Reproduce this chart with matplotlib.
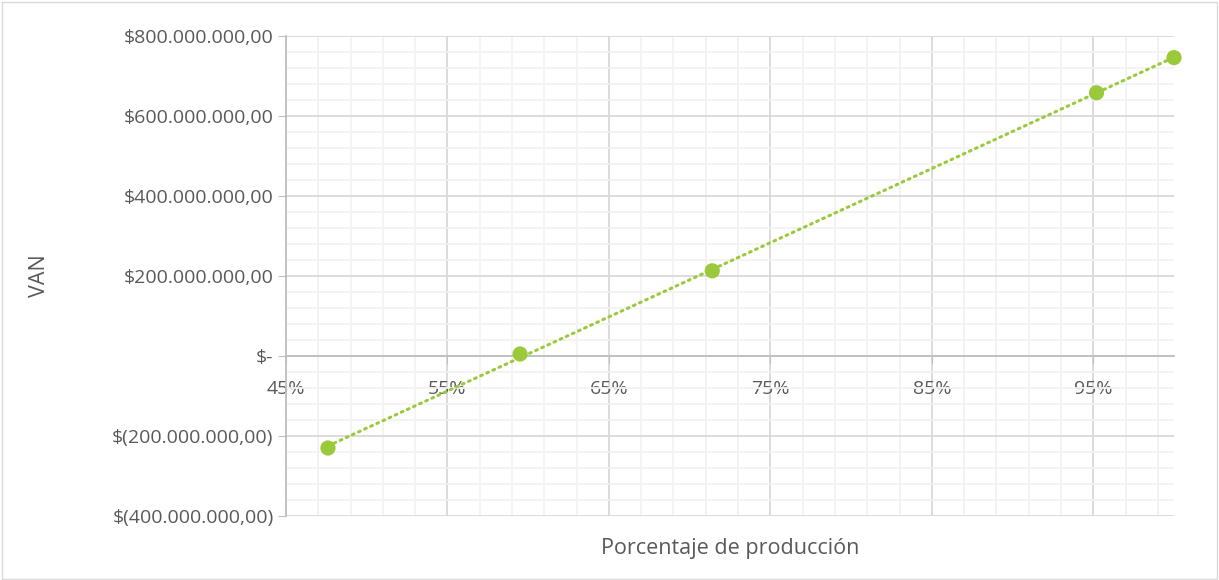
from matplotlib import pyplot as plt
from matplotlib.ticker import FuncFormatter, FixedLocator, MultipleLocator
import numpy as np

# datos
produccion = np.array([0.476, 0.595, 0.714, 0.952, 1.00])
van = np.array([-230e6, 5e6, 213e6, 658e6, 746e6])
ticks_x = [0.45, 0.55, 0.65, 0.75, 0.85, 0.95]

plt.rcParams['font.family'] = ['Open Sans', 'DejaVu Sans']
verde = '#9ACA3C'
gris = '#595959'

def fmt_pesos(v, pos):
    if abs(v) < 1:
        return '$-'
    s = '{:,.2f}'.format(abs(v)).replace(',', 'X').replace('.', ',').replace('X', '.')
    if v < 0:
        return '$(' + s + ')'
    return '$' + s

fig = plt.figure(figsize=(12.19, 5.8), dpi=100)
ax = fig.add_axes([286/1219, 1-516/580, (1174-286)/1219, (516-36)/580])

# linea de tendencia
m, b = np.polyfit(produccion, van, 1)
xt = np.array([produccion.min(), produccion.max()])
ax.plot(xt, m*xt + b, color=verde, lw=2.2, ls=(0, (0.6, 1.6)), dash_capstyle='round', zorder=3)
ax.scatter(produccion, van, s=120, color=verde, zorder=4, edgecolors='none', clip_on=False)

ax.set_xlim(0.45, 1.00)
ax.set_ylim(-400e6, 800e6)
ax.xaxis.set_major_locator(FixedLocator(ticks_x))
ax.xaxis.set_minor_locator(FixedLocator(np.arange(0.45, 1.001, 0.02)))
ax.yaxis.set_major_locator(MultipleLocator(200e6))
ax.yaxis.set_minor_locator(MultipleLocator(40e6))
ax.xaxis.set_major_formatter(FuncFormatter(lambda v, p: '{:.0f}%'.format(v*100)))
ax.yaxis.set_major_formatter(FuncFormatter(fmt_pesos))

ax.grid(which='major', color='#D9D9D9', lw=1.3)
ax.grid(which='minor', color='#F2F2F2', lw=1.3)
ax.set_axisbelow(True)

for s in ['top', 'right']:
    ax.spines[s].set_visible(False)
ax.spines['bottom'].set_position(('data', 0))
ax.spines['bottom'].set_color('#BFBFBF')
ax.spines['left'].set_color('#BFBFBF')
ax.spines['bottom'].set_linewidth(1.3)
ax.spines['left'].set_linewidth(1.3)
ax.tick_params(which='major', length=6, color='#BFBFBF', labelcolor=gris, labelsize=14)
ax.tick_params(which='minor', length=0)
ax.tick_params(axis='x', pad=11)
ax.tick_params(axis='y', pad=3)

ax.set_xlabel('Porcentaje de producción', fontsize=15.5, color=gris)
ax.xaxis.set_label_coords(0.5, -0.045)
ax.set_ylabel('VAN', fontsize=15.5, color=gris)
ax.yaxis.set_label_coords(-0.266, 0.5)

# borde exterior
fig.patches.append(plt.Rectangle((0.002, 0.002), 0.996, 0.994, transform=fig.transFigure,
                                 fill=False, edgecolor='#D9D9D9', lw=1))
fig.savefig('out.png', dpi=100)
